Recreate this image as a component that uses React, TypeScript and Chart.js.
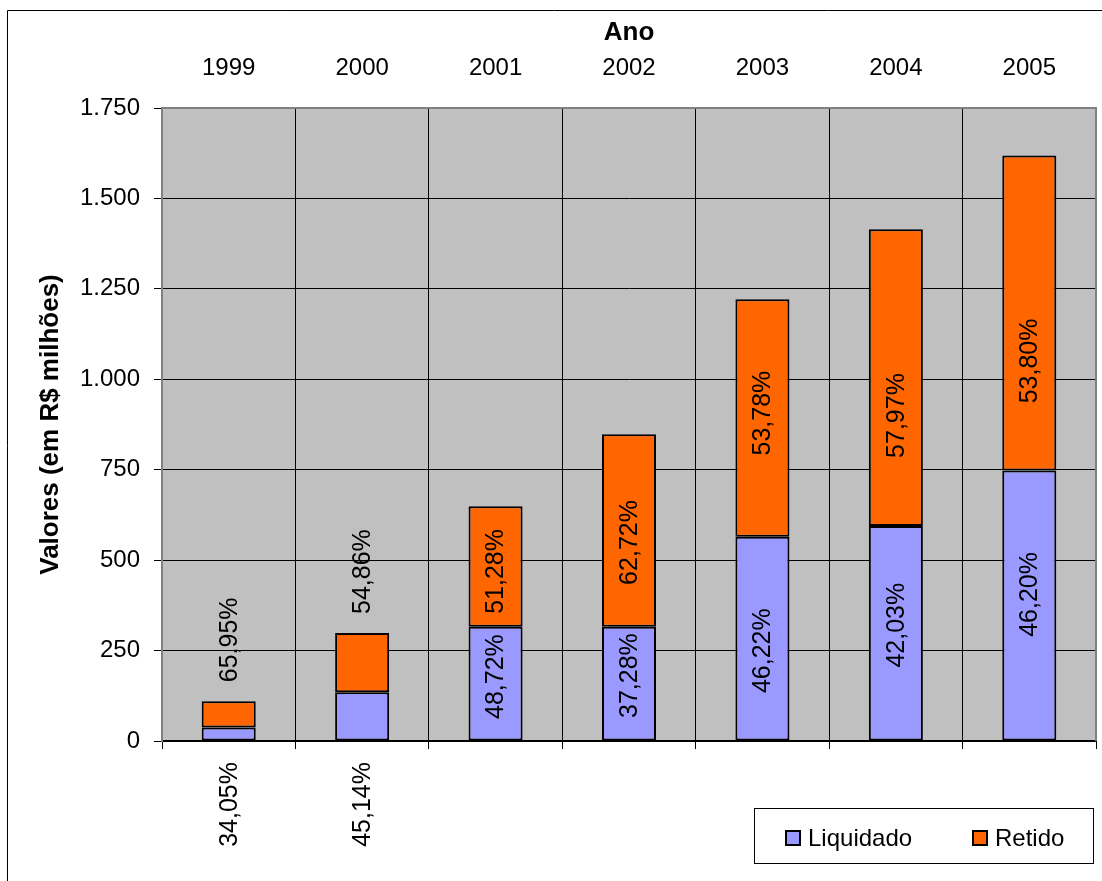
import { useEffect, useRef } from 'react';
import { Chart, registerables } from 'chart.js';

Chart.register(...registerables);

// Valores em R$ milhões
const years = ['1999', '2000', '2001', '2002', '2003', '2004', '2005'];
const liquidado = [37.5, 134.8, 316, 316, 564.5, 594.7, 748];
const retido = [72.5, 163.8, 333, 532, 656.5, 820.3, 871];

// Participação percentual de cada parcela no total do ano
const liquidadoPct = ['34,05%', '45,14%', '48,72%', '37,28%', '46,22%', '42,03%', '46,20%'];
const retidoPct = ['65,95%', '54,86%', '51,28%', '62,72%', '53,78%', '57,97%', '53,80%'];

const yMax = 1750;
const yStep = 250;

// Label layout: where each percentage sits relative to its segment
const liquidadoPlacement = ['below', 'below', 'inside', 'inside', 'inside', 'inside', 'inside'];
const retidoPlacement = ['above', 'above', 'inside', 'inside', 'inside', 'inside', 'inside'];
const liquidadoNudge = [0, 0, -7, -8, 12, -8, -11];
const retidoNudge = [0, 0, 5, 12, -5, 38, 48];

const FONT = '"Liberation Sans", Arial, Helvetica, sans-serif';
const PLOT_BG = '#C0C0C0';
const FRAME = '#808080';

const formatThousands = (v: number) =>
  String(v).replace(/\B(?=(\d{3})+(?!\d))/g, '.');

const backdropPlugin = {
  id: 'backdrop',
  beforeDraw(chart: any) {
    const { ctx, chartArea, width, height } = chart;
    ctx.save();
    ctx.fillStyle = '#ffffff';
    ctx.fillRect(0, 0, width, height);
    // outer chart frame
    ctx.strokeStyle = '#000000';
    ctx.lineWidth = 1;
    ctx.beginPath();
    ctx.moveTo(width, 10.5);
    ctx.lineTo(7.5, 10.5);
    ctx.lineTo(7.5, height);
    ctx.stroke();
    // plot area fill
    ctx.fillStyle = PLOT_BG;
    ctx.fillRect(chartArea.left, chartArea.top, chartArea.right - chartArea.left, chartArea.bottom - chartArea.top);
    ctx.restore();
  },
};

const frameAndLabelsPlugin = {
  id: 'frameAndLabels',
  afterDatasetsDraw(chart: any) {
    const { ctx, chartArea } = chart;
    ctx.save();
    // plot frame (left, top, right)
    ctx.strokeStyle = FRAME;
    ctx.lineWidth = 2;
    ctx.beginPath();
    ctx.moveTo(chartArea.left, chartArea.bottom);
    ctx.lineTo(chartArea.left, chartArea.top);
    ctx.lineTo(chartArea.right, chartArea.top);
    ctx.lineTo(chartArea.right, chartArea.bottom);
    ctx.stroke();

    // rotated percentage labels
    ctx.font = `25px ${FONT}`;
    ctx.fillStyle = '#000000';
    ctx.textAlign = 'center';
    ctx.textBaseline = 'middle';
    const sets = [
      { texts: liquidadoPct, placement: liquidadoPlacement, nudge: liquidadoNudge },
      { texts: retidoPct, placement: retidoPlacement, nudge: retidoNudge },
    ];
    sets.forEach((s, di) => {
      const meta = chart.getDatasetMeta(di);
      meta.data.forEach((bar: any, i: number) => {
        const text = s.texts[i];
        const w = ctx.measureText(text).width;
        const top = Math.min(bar.y, bar.base);
        const bottom = Math.max(bar.y, bar.base);
        let cy: number;
        if (s.placement[i] === 'below') {
          cy = chartArea.bottom + 21 + w / 2;
        } else if (s.placement[i] === 'above') {
          cy = top - 19 - w / 2;
        } else {
          cy = (top + bottom) / 2 + s.nudge[i];
        }
        ctx.save();
        ctx.translate(bar.x, cy);
        ctx.rotate(-Math.PI / 2);
        ctx.fillText(text, 0, 1);
        ctx.restore();
      });
    });
    ctx.restore();
  },
};

const boxLegendPlugin = {
  id: 'boxLegend',
  afterDraw(chart: any) {
    const { ctx, chartArea } = chart;
    const right = chartArea.right - 3;
    const left = right - 339;
    const top = 808;
    const h = 55;
    ctx.save();
    ctx.fillStyle = '#ffffff';
    ctx.fillRect(left, top, right - left, h);
    ctx.strokeStyle = '#000000';
    ctx.lineWidth = 1;
    ctx.strokeRect(left + 0.5, top + 0.5, right - left, h);
    const offsets = [31, 218];
    ctx.font = `24px ${FONT}`;
    ctx.textAlign = 'left';
    ctx.textBaseline = 'middle';
    chart.data.datasets.forEach((ds: any, i: number) => {
      const sx = left + offsets[i];
      const sy = top + 22;
      ctx.fillStyle = ds.backgroundColor;
      ctx.fillRect(sx, sy, 16, 16);
      ctx.strokeStyle = '#000000';
      ctx.lineWidth = 2;
      ctx.strokeRect(sx + 1, sy + 1, 14, 14);
      ctx.fillStyle = '#000000';
      ctx.fillText(ds.label, sx + 23, sy + 9);
    });
    ctx.restore();
  },
};

export default function App() {
  const canvasRef = useRef<HTMLCanvasElement | null>(null);

  useEffect(() => {
    const canvas = canvasRef.current;
    if (!canvas) return;
    const chart = new Chart(canvas, {
      type: 'bar',
      data: {
        labels: years,
        datasets: [
          {
            label: 'Liquidado',
            data: liquidado,
            backgroundColor: '#9999FF',
            borderColor: '#000000',
            borderWidth: 2,
            borderSkipped: false,
            xAxisID: 'x',
            yAxisID: 'y',
          },
          {
            label: 'Retido',
            data: retido,
            backgroundColor: '#FF6600',
            borderColor: '#000000',
            borderWidth: 2,
            borderSkipped: false,
            xAxisID: 'x',
            yAxisID: 'y',
          },
        ],
      },
      options: {
        responsive: false,
        animation: false,
        devicePixelRatio: 1,
        layout: { padding: { left: 0, top: 0, right: 6, bottom: 0 } },
        datasets: {
          bar: { categoryPercentage: 1, barPercentage: 0.405 },
        },
        plugins: {
          legend: { display: false },
          tooltip: { enabled: false },
        },
        scales: {
          x: {
            type: 'category',
            position: 'bottom',
            stacked: true,
            offset: true,
            ticks: { display: false },
            grid: {
              offset: true,
              color: '#000000',
              lineWidth: 1,
              tickLength: 8,
              drawTicks: true,
            },
            border: { display: true, color: '#000000', width: 2 },
            afterFit: (scale: any) => {
              scale.height = 140;
            },
          },
          xTop: {
            type: 'category',
            position: 'top',
            offset: true,
            grid: { display: false, drawTicks: false },
            border: { display: false },
            ticks: {
              color: '#000000',
              font: { family: FONT, size: 24 },
              padding: 25,
              maxRotation: 0,
              autoSkip: false,
            },
            title: {
              display: true,
              text: 'Ano',
              color: '#000000',
              font: { family: FONT, size: 26, weight: 'bold' },
              padding: { top: 17, bottom: 0 },
            },
            afterFit: (scale: any) => {
              scale.height = 108;
            },
          },
          y: {
            type: 'linear',
            stacked: true,
            min: 0,
            max: yMax,
            ticks: {
              stepSize: yStep,
              color: '#000000',
              font: { family: FONT, size: 24 },
              padding: 14,
              callback: (v: any) => formatThousands(Number(v)),
            },
            grid: {
              color: '#000000',
              lineWidth: 1,
              tickLength: 8,
              drawTicks: true,
            },
            border: { display: true, color: FRAME, width: 2 },
            title: {
              display: true,
              text: 'Valores (em R$ milhões)',
              color: '#000000',
              font: { family: FONT, size: 26, weight: 'bold' },
              padding: { top: 35, bottom: 0 },
            },
            afterFit: (scale: any) => {
              scale.width = 162;
            },
          },
        },
      },
      plugins: [backdropPlugin, frameAndLabelsPlugin, boxLegendPlugin],
    } as any);
    return () => chart.destroy();
  }, []);

  return (
    <div style={{ position: 'fixed', left: 0, top: 0, width: 1102, height: 881, background: '#ffffff' }}>
      <canvas ref={canvasRef} width={1102} height={881} style={{ display: 'block', width: 1102, height: 881 }} />
    </div>
  );
}
